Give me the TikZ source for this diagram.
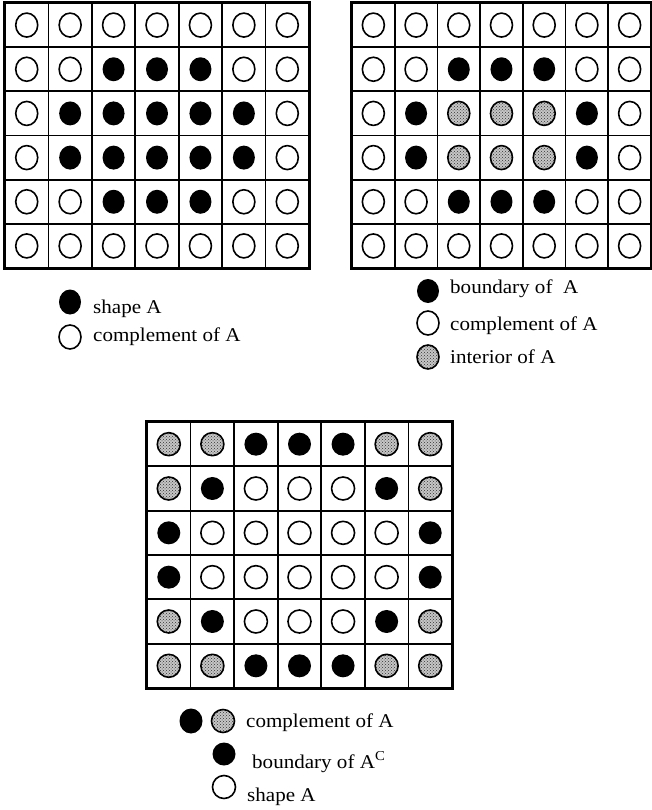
\documentclass[tikz,border=0pt]{standalone}
\usepackage{fontspec}
\setmainfont{Liberation Serif}
\newfontfamily\legfont[FakeStretch=1.08]{Liberation Serif}
\usetikzlibrary{patterns,shapes.geometric}
\tikzset{
  cellbox/.style={draw, line width=1.7pt, inner sep=0pt, minimum width=#1},
  frame/.style={draw, line width=2.1pt},
  dotbase/.style={ellipse, inner sep=0pt, minimum width=22pt, minimum height=24pt},
  d0/.style={dotbase, draw, line width=1.6pt, fill=white},
  d1/.style={dotbase, fill=black},
  d2/.style={dotbase, draw, line width=1.6pt, preaction={fill=gray!45}, pattern=crosshatch dots, pattern color=black!80},
  round/.style={minimum width=23pt, minimum height=23pt},
  legtext/.style={anchor=base west, inner sep=0pt, font=\legfont\fontsize{19.5}{22}\selectfont}
}
\begin{document}
\begin{tikzpicture}[x=1pt,y=-1pt]
\useasboundingbox (0,0) rectangle (652,810);

% ---------- grid 1 ----------
\foreach \row [count=\r] in {{0,0,0,0,0,0,0},{0,0,1,1,1,0,0},{0,1,1,1,1,1,0},{0,1,1,1,1,1,0},{0,0,1,1,1,0,0},{0,0,0,0,0,0,0}}{
  \foreach \v [count=\c] in \row{
    \node[cellbox=43.43pt, minimum height=44.17pt] (ga-\r-\c) at ({5+(\c-0.5)*43.43},{3+(\r-0.5)*44.17}) {};
    \node[d\v] (da-\r-\c) at (ga-\r-\c.center) {};
  }
}
\draw[frame] (ga-1-1.north west) rectangle (ga-6-7.south east);

% ---------- grid 2 ----------
\foreach \row [count=\r] in {{0,0,0,0,0,0,0},{0,0,1,1,1,0,0},{0,1,2,2,2,1,0},{0,1,2,2,2,1,0},{0,0,1,1,1,0,0},{0,0,0,0,0,0,0}}{
  \foreach \v [count=\c] in \row{
    \node[cellbox=42.71pt, minimum height=44.17pt] (gb-\r-\c) at ({352+(\c-0.5)*42.71},{3+(\r-0.5)*44.17}) {};
    \node[d\v] (db-\r-\c) at (gb-\r-\c.center) {};
  }
}
\draw[frame] (gb-1-1.north west) rectangle (gb-6-7.south east);

% ---------- grid 3 ----------
\foreach \row [count=\r] in {{2,2,1,1,1,2,2},{2,1,0,0,0,1,2},{1,0,0,0,0,0,1},{1,0,0,0,0,0,1},{2,1,0,0,0,1,2},{2,2,1,1,1,2,2}}{
  \foreach \v [count=\c] in \row{
    \node[cellbox=43.57pt, minimum height=44.33pt] (gc-\r-\c) at ({147+(\c-0.5)*43.57},{422+(\r-0.5)*44.33}) {};
    \node[d\v, round] (dc-\r-\c) at (gc-\r-\c.center) {};
  }
}
\draw[frame] (gc-1-1.north west) rectangle (gc-6-7.south east);

% ---------- legend 1 ----------
\node[d1, minimum height=25pt] (la1) at (70,302) {};
\node[legtext] (ta1) at (93,313) {shape A};
\node[d0] (la2) at (70,337) {};
\node[legtext] (ta2) at (93,341) {complement of A};

% ---------- legend 2 ----------
\node[d1] (lb1) at (428,291) {};
\node[legtext] (tb1) at (450,293) {boundary of\ \ A};
\node[d0] (lb2) at (428,323) {};
\node[legtext] (tb2) at (450,330) {complement of A};
\node[d2] (lb3) at (428,357) {};
\node[legtext] (tb3) at (450,363) {interior of A};

% ---------- legend 3 ----------
\node[d1, round, minimum height=25pt] (lc1) at (191,721) {};
\node[d2, round] (lc2) at (223,721) {};
\node[legtext] (tc1) at (246,727) {complement of A};
\node[d1, round] (lc3) at (224,754) {};
\node[legtext] (tc2) at (252,768) {boundary of A\textsuperscript{C}};
\node[d0, round] (lc4) at (224,787) {};
\node[legtext] (tc3) at (247,801) {shape A};
\end{tikzpicture}
\end{document}
